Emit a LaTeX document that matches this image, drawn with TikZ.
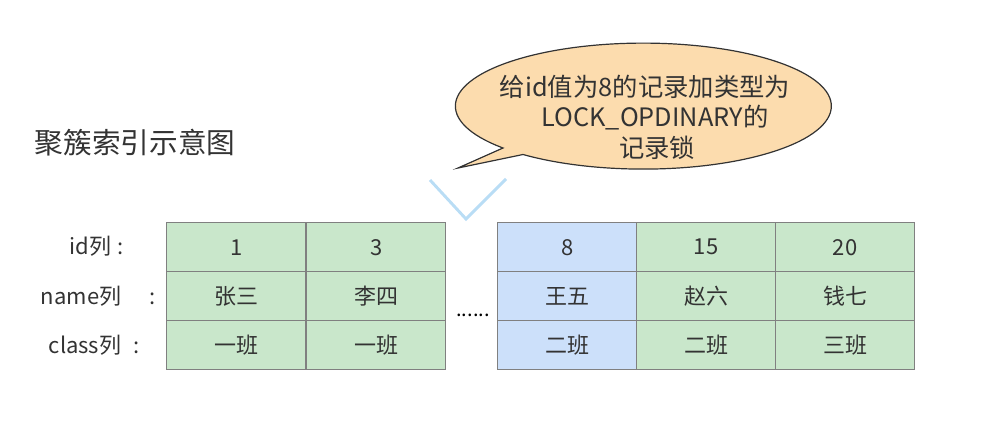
\documentclass[tikz,border=0pt]{standalone}
\usepackage{fontspec}
\setmainfont{Noto Sans CJK SC}
\usetikzlibrary{shapes.geometric}
\definecolor{cellgreen}{HTML}{C9E7CB}
\definecolor{cellblue}{HTML}{CCE0FA}
\definecolor{gridgray}{HTML}{808080}
\definecolor{txt}{HTML}{333333}
\definecolor{bubble}{HTML}{FCDCAE}
\definecolor{vline}{HTML}{B9DDF5}
\tikzset{
  cell/.style={draw=gridgray, line width=1pt, minimum width=139*0.75pt, minimum height=49*0.75pt, inner sep=0pt, text=txt, font=\fontsize{16.5}{20}\selectfont, anchor=north west},
  green/.style={cell, fill=cellgreen},
  blue/.style={cell, fill=cellblue},
  lbl/.style={text=txt, font=\fontsize{16.5}{20}\selectfont, anchor=west, inner sep=0pt},
  btxt/.style={text=txt, font=\fontsize{19}{23}\selectfont},
}
\begin{document}
\begin{tikzpicture}[x=0.75pt,y=-0.75pt]
\useasboundingbox (0,0) rectangle (998,436);
% title
\node[text=txt, font=\fontsize{21.5}{26}\selectfont, anchor=west] (title) at (30,143) {聚簇索引示意图};
% bubble
\fill[bubble, draw=txt, line width=0.9pt]
  (458,168) -- (503,148)
  arc[start angle=138.3, end angle=489.8, x radius=188, y radius=63] -- cycle;
\node[btxt] (b1) at (645,87) {给id值为8的记录加类型为};
\node[btxt] (b2) at (655,118) {LOCK\_OPDINARY的};
\node[btxt] (b3) at (657,148) {记录锁};
% V lines
\coordinate (vl) at (430,180);
\coordinate (vr) at (506,179);
\coordinate (vb) at (466,219);
\draw[vline, line width=2.2pt] (vl) -- (vb) -- (vr);
% row labels
\node[lbl] (l1) at (111,246) {\llap{id列}\hspace{5pt}:};
\node[lbl] (l2) at (121,296) {\llap{name列}\hspace{21.5pt}:};
\node[lbl] (l3) at (121,345) {\llap{class列}\hspace{9pt}:};
% table
\foreach \x/\a/\b/\c/\s in {166/1/张三/一班/green, 306/3/李四/一班/green, 497/8/王五/二班/blue, 636/15/赵六/二班/green, 775/20/钱七/三班/green}{
  \node[\s] (r1c\x) at (\x,222) {\a};
  \node[\s] (r2c\x) at (\x,271) {\b};
  \node[\s] (r3c\x) at (\x,320) {\c};
}
\node[text=black, font=\fontsize{15}{16}\selectfont] (dots) at (473,315) {......};
\end{tikzpicture}
\end{document}
